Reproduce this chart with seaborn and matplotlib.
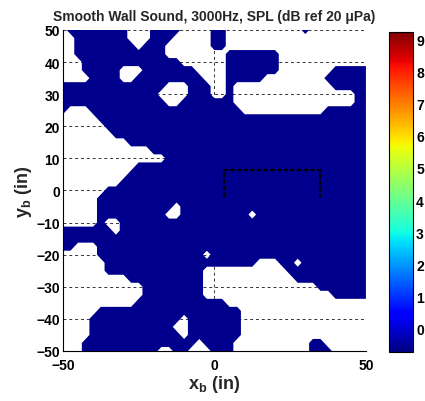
import numpy as np
import matplotlib
matplotlib.use("Agg")
import matplotlib.pyplot as plt
import seaborn as sns
from matplotlib.colors import Normalize
from matplotlib.cm import ScalarMappable

# ---------------- data ----------------
# measurement grid (inches), 2.5 in spacing
x_in = np.linspace(-50, 50, 41)
y_in = np.linspace(50, -50, 41)          # rows from top (y=50) to bottom (y=-50)

# SPL levels (dB ref 20 uPa)
spl_low = -0.9    # below lowest contour level -> left blank (white)
spl_floor = -0.6  # lowest filled band (dark blue)

# run lengths along each row, alternating low / floor, starting with low
spl_runs = [
    (1, 8, 3, 4, 4, 2, 10, 1, 8),
    (2, 7, 3, 3, 5, 2, 19),
    (2, 8, 1, 3, 6, 2, 19),
    (2, 12, 8, 7, 12),
    (3, 13, 6, 7, 12),
    (3, 5, 3, 7, 4, 7, 7, 5),
    (4, 4, 2, 9, 3, 5, 8, 6),
    (0, 14, 3, 3, 2, 1, 13, 5),
    (0, 13, 4, 3, 2, 1, 16, 2),
    (0, 14, 2, 7, 16, 2),
    (0, 1, 3, 20, 11, 6),
    (5, 36),
    (6, 35),
    (7, 34),
    (9, 32),
    (12, 29),
    (14, 27),
    (10, 31),
    (9, 32),
    (8, 33),
    (6, 35),
    (5, 36),
    (5, 10, 1, 25),
    (5, 9, 2, 9, 1, 15),
    (5, 1, 2, 33),
    (0, 7, 1, 33),
    (0, 41),
    (0, 2, 3, 36),
    (5, 14, 1, 21),
    (6, 20, 3, 2, 1, 9),
    (6, 13, 11, 11),
    (9, 10, 12, 10),
    (11, 8, 15, 7),
    (11, 8, 17, 5),
    (10, 12, 19),
    (5, 19, 17),
    (4, 12, 1, 7, 17),
    (4, 11, 2, 7, 17),
    (4, 12, 1, 7, 17),
    (3, 15, 1, 4, 10, 2, 6),
    (3, 10, 2, 2, 3, 3, 10, 3, 5),
]

# sensor box outline (inches)
box_x = [3, 3, 35, 35]
box_y = [-2, 6.5, 6.5, -2]

cbar_ticks = [0, 1, 2, 3, 4, 5, 6, 7, 8, 9]
clim = (-0.75, 9.25)
title = "Smooth Wall Sound, 3000Hz, SPL (dB ref 20 \u03bcPa)"

# ---------------- build field ----------------
rows = []
for runs in spl_runs:
    vals = []
    for k, n in enumerate(runs):
        vals += [spl_low if k % 2 == 0 else spl_floor] * n
    rows.append(vals)
Z = np.array(rows, dtype=float)
X, Y = np.meshgrid(x_in, y_in)

# ---------------- style ----------------
sns.set_theme(style="white")
plt.rcParams["font.family"] = ["Liberation Sans", "DejaVu Sans"]
plt.rcParams["font.weight"] = "bold"
plt.rcParams["mathtext.fontset"] = "custom"
plt.rcParams["mathtext.rm"] = "Liberation Sans:bold"
plt.rcParams["mathtext.bf"] = "Liberation Sans:bold"
plt.rcParams["mathtext.it"] = "Liberation Sans:bold"

fig = plt.figure(figsize=(4.25, 4.02), dpi=100)
ax = fig.add_axes([0.148, 0.1244, 0.713, 0.7985])
cax = fig.add_axes([0.916, 0.1211, 0.0565, 0.7975])

cmap = plt.get_cmap("jet")
norm = Normalize(*clim)
levels = np.arange(clim[0], clim[1] + 0.01, 0.25)

ax.contourf(X, Y, Z, levels=levels, cmap=cmap, norm=norm, zorder=1, antialiased=True)
ax.plot(box_x, box_y, color="black", lw=1.6, ls=(0, (2, 1)), zorder=3)

ax.set_xlim(-50, 50)
ax.set_ylim(-50, 50)
ax.set_xticks([-50, 0, 50])
ax.set_yticks(list(range(-50, 51, 10)))
ax.set_axisbelow(True)
ax.grid(True, color="#333333", lw=0.7, ls=(0, (3, 3)))
for s in ["top", "right"]:
    ax.spines[s].set_visible(False)
for s in ["left", "bottom"]:
    ax.spines[s].set_color("black")
    ax.spines[s].set_linewidth(0.8)
ax.tick_params(direction="in", length=0, labelsize=10, colors="black")
ax.tick_params(axis="y", pad=2)
ax.tick_params(axis="x", pad=5)
for lab in ax.get_xticklabels() + ax.get_yticklabels():
    lab.set_fontweight("bold")

ax.set_title(title, fontsize=10, fontweight="bold", pad=7)
ax.set_xlabel(r"$\mathbf{x_b}$ (in)", fontsize=13, fontweight="bold", labelpad=1)
ax.set_ylabel(r"$\mathbf{y_b}$ (in)", fontsize=13, fontweight="bold", labelpad=2)

cb = fig.colorbar(ScalarMappable(norm=norm, cmap=cmap), cax=cax, ticks=cbar_ticks)
cb.outline.set_edgecolor("black")
cb.outline.set_linewidth(0.8)
cax.tick_params(direction="in", length=3, labelsize=10, pad=2, colors="black",
                left=True, right=True)
for lab in cax.get_yticklabels():
    lab.set_fontweight("bold")

fig.savefig("out.png", dpi=100)
